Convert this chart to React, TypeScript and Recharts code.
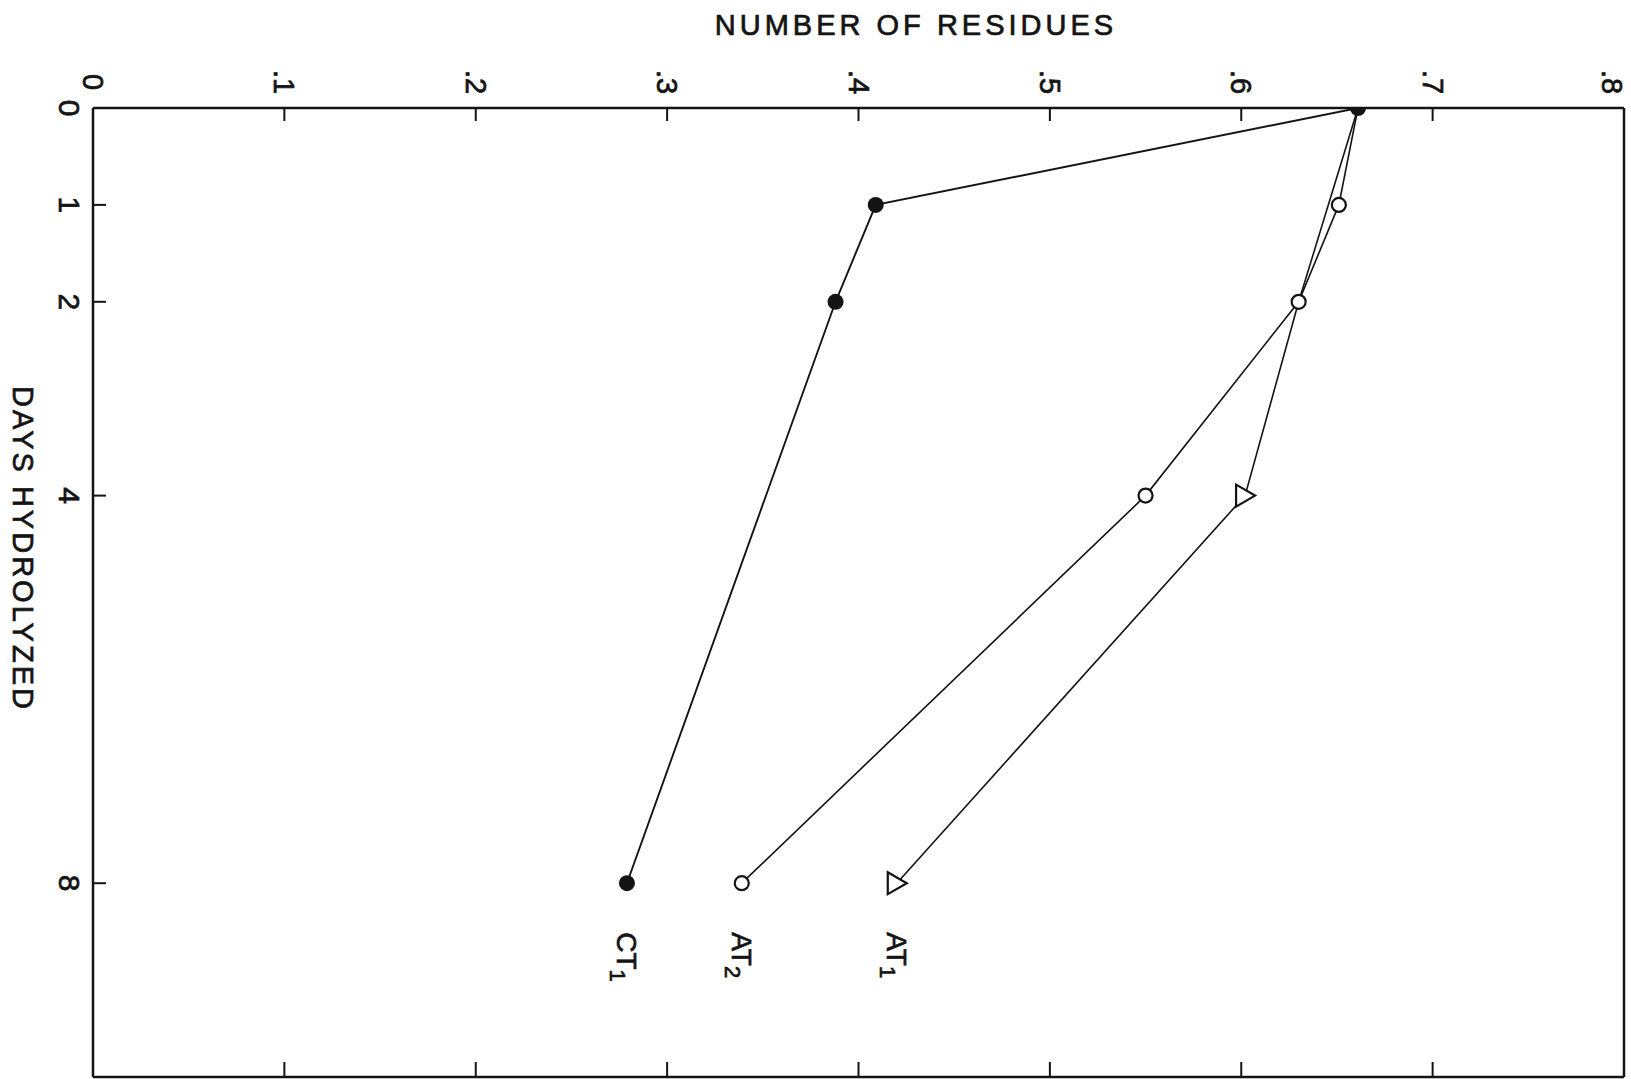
import { LineChart, Line, XAxis, YAxis } from "recharts";

const days = [0, 1, 2, 4, 8];
const ct1 = [0.661, 0.409, 0.388, null, 0.279];
const at2 = [0.661, 0.651, 0.63, 0.55, 0.339];
const at1 = [0.661, null, 0.63, 0.602, 0.42];

const residueTicks = [0, 0.1, 0.2, 0.3, 0.4, 0.5, 0.6, 0.7, 0.8];
const residueLabels = ["0", ".1", ".2", ".3", ".4", ".5", ".6", ".7", ".8"];
const dayTicks = [0, 1, 2, 4, 8];

const rows = days.map((d, i) => ({ day: d, ct1: ct1[i], at2: at2[i], at1: at1[i] }));

const INK = "#141414";
const FONT = "'Liberation Sans', Arial, sans-serif";
// scanned lettering is a bit heavier than the regular face
const heavy = { stroke: INK, strokeWidth: 0.7 };

const TopTick = (p: any) => {
  const { x, y, payload } = p;
  const i = residueTicks.indexOf(payload.value);
  // last label sits just inside the right edge, like the original
  const lx = i === residueTicks.length - 1 ? x - 12 : x;
  const ty = y - 26;
  return (
    <g>
      <line x1={x} y1={y} x2={x} y2={y + 13} stroke={INK} strokeWidth={2} />
      <text
        x={lx}
        y={ty}
        transform={`rotate(90 ${lx} ${ty})`}
        textAnchor="middle"
        dominantBaseline="central"
        fontSize={29}
        fontFamily={FONT}
        fill={INK}
        {...heavy}
      >
        {residueLabels[i]}
      </text>
    </g>
  );
};

const BottomTick = (p: any) => {
  const { x, y } = p;
  return <line x1={x} y1={y} x2={x} y2={y - 15} stroke={INK} strokeWidth={2} />;
};

const LeftTick = (p: any) => {
  const { x, y, payload } = p;
  const tx = x - 24;
  return (
    <g>
      {payload.value > 0 && <line x1={x} y1={y} x2={x + 13} y2={y} stroke={INK} strokeWidth={2} />}
      <text
        x={tx}
        y={y}
        transform={`rotate(90 ${tx} ${y})`}
        textAnchor="middle"
        dominantBaseline="central"
        fontSize={30}
        fontFamily={FONT}
        fill={INK}
        {...heavy}
      >
        {payload.value}
      </text>
    </g>
  );
};

const FilledDot = (p: any) => {
  const { cx, cy, index } = p;
  if (cx == null || cy == null) return <g key={index} />;
  return <circle key={index} cx={cx} cy={cy} r={8} fill={INK} stroke="none" />;
};

const OpenDot = (p: any) => {
  const { cx, cy, index, payload } = p;
  if (cx == null || cy == null || payload.day === 0) return <g key={index} />;
  return <circle key={index} cx={cx} cy={cy} r={7} fill="#fff" stroke={INK} strokeWidth={2.2} />;
};

const TriDot = (p: any) => {
  const { cx, cy, index, payload } = p;
  if (cx == null || cy == null || payload.day < 4) return <g key={index} />;
  const pts = `${cx - 9},${cy - 11} ${cx + 10},${cy} ${cx - 9},${cy + 11}`;
  return <polygon key={index} points={pts} fill="#fff" stroke={INK} strokeWidth={2.2} />;
};

const seriesLabel = (main: string, sub: string, last: number | null) => (p: any) => {
  const { x, y, value } = p;
  if (value !== last || x == null || y == null) return null;
  const ty = y + 49;
  return (
    <text
      key={`lbl-${main}${sub}`}
      x={x}
      y={ty}
      transform={`rotate(90 ${x} ${ty})`}
      textAnchor="start"
      dominantBaseline="central"
      fontSize={28}
      fontFamily={FONT}
      fill={INK}
      {...heavy}
    >
      {main}
      <tspan dy={9} fontSize={22}>{sub}</tspan>
    </text>
  );
};

export default function App() {
  return (
    <div style={{ position: "absolute", left: 0, top: 0, background: "#fff" }}>
      <LineChart
        width={1631}
        height={1079}
        data={rows}
        layout="vertical"
        margin={{ top: 48, right: 6, bottom: 1, left: 33 }}
      >
        <XAxis
          type="number"
          dataKey="ct1"
          orientation="top"
          domain={[0, 0.8]}
          ticks={residueTicks}
          height={60}
          tickSize={0}
          tickMargin={0}
          tickLine={false}
          axisLine={{ stroke: INK, strokeWidth: 2.5 }}
          tick={<TopTick />}
          interval={0}
          allowDataOverflow
          label={{
            content: () => (
              <text
                x={916}
                y={25}
                textAnchor="middle"
                dominantBaseline="central"
                fontSize={29}
                letterSpacing={4}
                fontFamily={FONT}
                fill={INK}
                {...heavy}
              >
                NUMBER OF RESIDUES
              </text>
            ),
          }}
        />
        <XAxis
          xAxisId="bottom"
          type="number"
          orientation="bottom"
          domain={[0, 0.8]}
          ticks={residueTicks}
          height={1}
          tickSize={0}
          tickMargin={0}
          tickLine={false}
          axisLine={{ stroke: INK, strokeWidth: 2.5 }}
          tick={<BottomTick />}
          interval={0}
          allowDataOverflow
        />
        <YAxis
          type="number"
          dataKey="day"
          domain={[0, 10]}
          ticks={dayTicks}
          width={60}
          tickSize={0}
          tickMargin={0}
          tickLine={false}
          axisLine={{ stroke: INK, strokeWidth: 2.5 }}
          tick={<LeftTick />}
          interval={0}
          allowDataOverflow
          label={{
            content: () => (
              <text
                x={23}
                y={549}
                transform="rotate(90 23 549)"
                textAnchor="middle"
                dominantBaseline="central"
                fontSize={29}
                letterSpacing={3}
                fontFamily={FONT}
                fill={INK}
                {...heavy}
              >
                DAYS HYDROLYZED
              </text>
            ),
          }}
        />
        <YAxis
          yAxisId="right"
          type="number"
          orientation="right"
          domain={[0, 10]}
          width={1}
          tick={false}
          tickLine={false}
          axisLine={{ stroke: INK, strokeWidth: 2.5 }}
          allowDataOverflow
        />
        <Line
          dataKey="at1"
          stroke={INK}
          strokeWidth={1.6}
          connectNulls
          dot={<TriDot />}
          label={seriesLabel("AT", "1", at1[at1.length - 1])}
          isAnimationActive={false}
        />
        <Line
          dataKey="at2"
          stroke={INK}
          strokeWidth={1.6}
          connectNulls
          dot={<OpenDot />}
          label={seriesLabel("AT", "2", at2[at2.length - 1])}
          isAnimationActive={false}
        />
        <Line
          dataKey="ct1"
          stroke={INK}
          strokeWidth={1.9}
          connectNulls
          dot={<FilledDot />}
          label={seriesLabel("CT", "1", ct1[ct1.length - 1])}
          isAnimationActive={false}
        />
      </LineChart>
    </div>
  );
}
